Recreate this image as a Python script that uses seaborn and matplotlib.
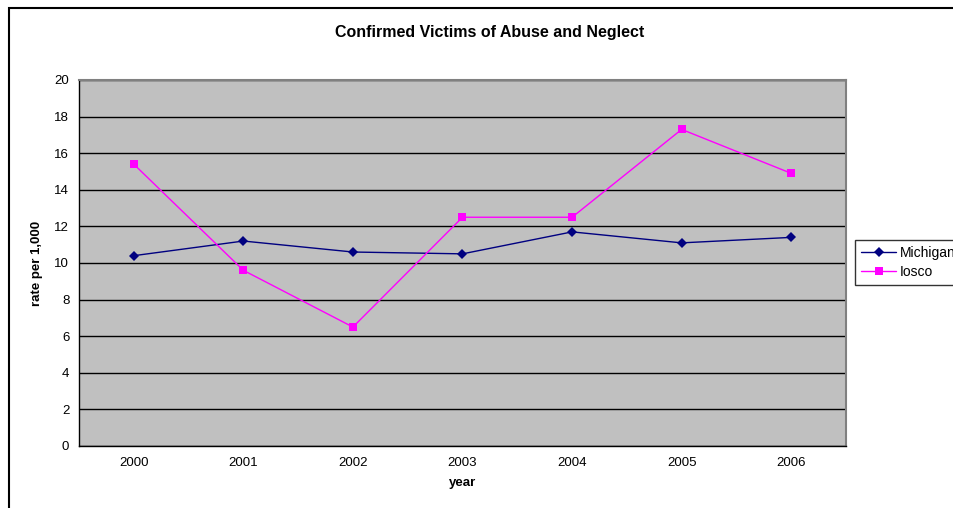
import numpy as np
import pandas as pd
import seaborn as sns
import matplotlib.pyplot as plt
from matplotlib.patches import Rectangle
from matplotlib.lines import Line2D

years = ["2000", "2001", "2002", "2003", "2004", "2005", "2006"]
michigan = [10.4, 11.2, 10.6, 10.5, 11.7, 11.1, 11.4]
iosco = [15.4, 9.6, 6.5, 12.5, 12.5, 17.3, 14.9]

df = pd.DataFrame({
    "pos": list(range(len(years))) * 2,
    "rate": michigan + iosco,
    "area": ["Michigan"] * len(years) + ["Iosco"] * len(years),
})

sns.set_style("white")
plt.rcParams["font.family"] = ["Liberation Sans", "DejaVu Sans"]
plt.rcParams["text.color"] = "black"
plt.rcParams["axes.labelcolor"] = "black"
plt.rcParams["xtick.color"] = "black"
plt.rcParams["ytick.color"] = "black"

fig = plt.figure(figsize=(9.54, 5.08), dpi=100)
W, H = 954, 508
ax = fig.add_axes([79 / W, 1 - 446 / H, (846 - 79) / W, (446 - 80) / H])
ax.set_facecolor("#C0C0C0")

# outer chart border
fig.patches.append(Rectangle((9 / W, -0.1), 1.2, 1 - 8 / H + 0.1, transform=fig.transFigure,
                             fill=False, edgecolor="black", linewidth=1.5, zorder=0))

sns.lineplot(data=df, x="pos", y="rate", hue="area", style="area",
             palette={"Michigan": "#000080", "Iosco": "#FF00FF"},
             markers={"Michigan": "D", "Iosco": "s"}, dashes=False,
             markersize=6, linewidth=1, markeredgewidth=0, ax=ax, legend=False)
lines = ax.get_lines()
lines[0].set_markersize(5)

ax.set_xlim(-0.5, len(years) - 0.5)
ax.set_ylim(0, 20)
ax.set_yticks(np.arange(0, 21, 2))
ax.yaxis.grid(True, color="black", linewidth=1)
ax.set_axisbelow(True)

ax.set_xticks(np.arange(-0.5, len(years), 1.0))
ax.set_xticklabels([])
ax.set_xticks(np.arange(len(years)), minor=True)
ax.set_xticklabels(years, minor=True)
ax.tick_params(axis="x", which="major", direction="out", length=5, color="black")
ax.tick_params(axis="x", which="minor", length=0, pad=8, labelsize=9.5)
ax.tick_params(axis="y", direction="out", length=5, color="black", labelsize=9.5, pad=2)

for s in ax.spines.values():
    s.set_color("#808080")
    s.set_linewidth(1.5)
ax.spines["left"].set_color("black")
ax.spines["bottom"].set_color("black")
ax.spines["left"].set_linewidth(1)
ax.spines["bottom"].set_linewidth(1)

ax.set_xlabel("year", fontsize=9.5, fontweight="bold", labelpad=6)
ax.set_ylabel("rate per 1,000", fontsize=9.5, fontweight="bold", labelpad=8)
fig.text(490 / W, 1 - 32 / H, "Confirmed Victims of Abuse and Neglect",
         ha="center", va="center", fontsize=11.5, fontweight="bold")

handles = [Line2D([], [], color="#000080", marker="D", markersize=5, markeredgewidth=0, linewidth=1),
           Line2D([], [], color="#FF00FF", marker="s", markersize=6, markeredgewidth=0, linewidth=1)]
leg = fig.legend(handles, ["Michigan", "Iosco"], loc="upper left",
                 bbox_to_anchor=(855 / W, 1 - 240 / H), frameon=True, fancybox=False,
                 fontsize=10, handlelength=2.5, borderpad=0.45, labelspacing=0.35,
                 handletextpad=0.25, borderaxespad=0)
leg.get_frame().set_edgecolor("black")
leg.get_frame().set_linewidth(1)

fig.savefig("out.png", dpi=100)
